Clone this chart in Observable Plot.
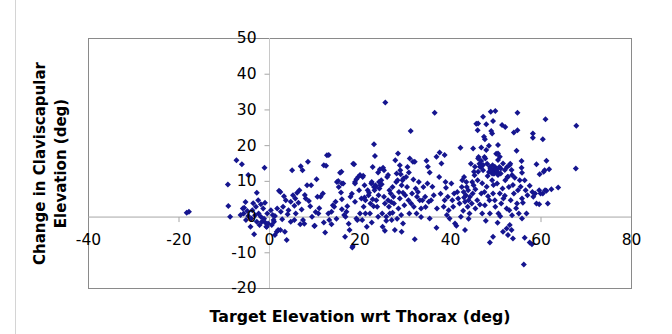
<!DOCTYPE html>
<html><head><meta charset="utf-8">
<script src="https://cdn.jsdelivr.net/npm/d3@7"></script>
<script src="https://cdn.jsdelivr.net/npm/@observablehq/plot@0.6"></script>
<style>
html,body{margin:0;padding:0;background:#fff;}
#wrap{position:relative;width:672px;height:334px;overflow:hidden;}
#wrap::before{content:"";position:absolute;left:15px;top:0;bottom:0;border-left:1px solid #d4d4d4;}
#wrap svg{display:block;}
</style></head><body><div id="wrap"></div>
<script>
// Data: [target elevation wrt thorax (deg), change in claviscapular elevation (deg)]
const ptsNeg = [[-18.3,1.2],[-17.8,1.5],[-9.2,9.1],[-9.1,3.1],[-8.7,0.1],[-7.3,15.9],[-6.1,14.8],[-4.7,11.8],[-1.1,13.8],
[-5.3,4.2],[-4.9,1.7],[-5.7,1],[-5.2,-0.8],[-4.2,-2.7],[-3.4,-4.8],[-2.8,6.8],[-3,2.9],[-2.5,4.7],[-1.9,3.6],[-3.8,1.9],[-2.4,1],[-1.9,0.1],[-1.7,-1.3],[-0.9,-1.6],[-0.7,-2.7],[-0.3,-1.8],[-2.8,-1.3],[-4,-0.4],[-4.7,0.3],[-6.4,0.6],[-5.9,2.4],[-1.4,2.4],[-0.5,1],[-5.6,2.6],[-3.6,3.9],[-1,4],[-2.2,-2.2],[-0.6,-2.7],[-1.2,-0.5],[-3.2,0.5]];
const pts0to10 = [[0.3,1.9],[0.7,0.6],[0.9,-0.8],[0.5,-2.2],[1.6,-4.1],[1.2,-5],[1.9,-3.6],[2.4,-3.6],[1.7,2.4],[2.1,7.4],[2.4,7],[2.5,1.5],[3,2.9],[3.6,4.7],[3.4,-4.1],[3.8,-6.4],[4.2,1.9],[4.7,4.3],[5,13.1],[5.2,6.1],[5.7,5.2],[5.8,1],[5.5,-0.8],[4.7,-1.3],[6.1,6.8],[6.4,4],[6.6,7.5],[6.9,14.2],[7.3,13.1],[7.1,2.1],[7.4,-0.8],[7.7,-1.9],[8,5.2],[8.3,8.9],[8.5,15.5],[8.7,4.5],[9.2,8.9],[9.4,0.1],[9.9,-2.5],[1.2,0.3],[2.8,-0.6],[4,0.8],[6.8,-2],[3.2,5.8],[5.5,3.2],[7.8,6.2],[9,3],[1,-1.3]];
const pts10to20 = [[10.2,1.4],[10.4,10.6],[10.6,5.7],[10.8,1],[10,-2.4],[11.3,5.7],[11.8,6.6],[12,14.5],[12.3,-4.3],[12.7,17.3],[13,1],[13.2,-0.8],[13.7,-2],[13.7,1.5],[14,3.3],[14.3,2.9],[14.6,4.3],[14.9,9.8],[15.3,8.4],[15.6,12.4],[15.8,6.9],[16,9.4],[16,5],[16.7,-5.5],[16.5,0.6],[16.8,0.1],[17,1.5],[17.5,-1.9],[17.7,-3.6],[17.9,5.7],[18.3,-8.5],[18.4,-8.1],[18.5,14.9],[18.9,4.3],[18.9,9.8],[19.2,-0.4],[19.4,-0.8],[19.6,11.2],[19.8,7.5],[15.2,10.1],[16.3,9.4],[18.7,14.8],[15.9,12.7],[18.9,9.4],[19.2,10.6],[12.5,14.4],[13.1,17.4],[11,2.5],[14.8,-0.5],[17.2,3],[12,-1.5],[16,2.2],[18.2,6.5]];
const pts20to30 = [[20,1],[20.3,5.2],[20.6,11.2],[20.8,2.9],[21,8.9],[21.2,4.7],[21.2,1],[21.5,-2.7],[21.7,7.5],[21.9,6.1],[22.2,1],[22.3,3.8],[22.5,9.4],[22.6,9.8],[22.8,14],[23.1,20.4],[23.3,17.1],[23.1,8.4],[23.2,7.5],[23.4,8.9],[23.6,4.7],[23.8,2.9],[24,0.1],[24.1,6.1],[24.2,9.8],[24.3,8],[24.5,8.9],[24.7,10.3],[24.9,1],[25,-2.7],[25.3,13.1],[25.3,5.7],[25.5,3.8],[25.6,32.1],[25.8,0.1],[25.5,-3.8],[26,11.2],[26.2,4.7],[26.4,2.9],[26.6,1],[26.8,6.6],[27,-0.8],[27.2,8.4],[27.4,5.7],[27.5,3.8],[27.7,-3.6],[27.8,15.9],[28.4,17.8],[28,9.8],[28.1,12.2],[28.3,10.3],[28.5,2.4],[28.6,7],[28.8,5.2],[28.9,13.1],[29.1,0.6],[29.2,8.9],[29.4,10.3],[29.5,-1.8],[29.2,-4.1],[29.8,3.3],[20,11.8],[20.7,11.6],[25.1,13.8],[24.4,13.4],[26.2,11.8],[24,12.5],[23.5,8.5],[24.8,9.2],[22,6.8],[21,5.5],[26.5,7.5],[29,12],[29.6,10.8],[28.8,14.5],[22.6,-1.5],[23,3],[25.8,-1],[27.2,1.2],[20.5,-0.8],[28.2,-0.5],[26.9,4.2],[22.8,5],[29.5,6.8]];
const pts30to40 = [[30,6.1],[30.2,11.2],[30.4,8.4],[30.5,14],[30.7,4.7],[31.2,24.1],[30.9,1],[31,16.4],[31.7,15.5],[31.3,3.8],[31.5,6.6],[31.9,2.9],[32.1,-6.2],[32.3,8],[32.5,1],[32.6,5.7],[33,9.8],[33.2,4.7],[33.5,2.4],[33.8,4.7],[34,8.4],[34.7,15.8],[34.4,5.7],[35,14.1],[35.4,12.5],[34.9,9.4],[35.2,4.3],[35.4,-0.4],[35.7,4.7],[36.5,29.2],[36.3,6.1],[36.9,16.9],[36.9,-3],[37,2.4],[37.6,18.1],[37.5,11.2],[38,15],[38.7,17.4],[38.5,2.9],[38.7,4.7],[38.9,9.8],[39.2,0.6],[39.4,5.7],[39.6,1.9],[39.8,-0.4],[30.8,12.5],[32.8,7],[36,8.5],[31.8,10.5],[33.5,0],[37.8,6.5],[39,8.2],[34.5,2.8],[32.1,15.5]];
const pts40to50 = [[40.2,9.4],[40.4,4.7],[40.6,2.9],[40.8,6.6],[41,-1.8],[41.3,-2.4],[42.2,19.4],[41.7,5.2],[42,3.8],[42.3,0.1],[42.5,8.4],[42.6,10.3],[43.2,-3.6],[42.9,7],[43,11.2],[43.2,4.3],[43.4,6.1],[43.5,9.8],[43.6,8.4],[43.8,2.9],[43.9,7.5],[44,4.7],[44.2,1],[44.3,5.7],[44.5,14.9],[45,19.2],[44.7,3.8],[44.9,6.6],[45.1,8.9],[45.3,11.7],[45.5,2.4],[45.7,26.1],[46,24.3],[45.9,4.7],[46,10.3],[46.2,16.8],[46.4,14.9],[46.8,19.5],[46.7,14],[46.8,6.6],[47,1],[47.2,28.1],[47.4,22.5],[47.2,13.1],[47.9,18.8],[47.5,16.8],[47.5,7],[47.6,3.3],[47.7,16.4],[47.9,26],[48.7,-7.1],[48.5,20],[48.1,14.9],[48.9,29.5],[49.2,23.4],[48.5,12.6],[48.6,4.7],[48.7,1],[48.8,13.5],[49.4,-5.5],[49.9,29.7],[49.4,26.9],[49.2,12.2],[49.2,10.3],[49.3,14.5],[49.4,6.6],[49.5,13.1],[49.6,12.2],[49,24.1],[49.8,4.7],[49.9,2.9],[46.1,26.2],[47.6,21.8],[46.1,16.4],[46.8,15.7],[47.2,14.6],[46.5,14.1],[45.4,14.1],[45.2,12.7],[46.1,12.7],[48.7,14.1],[49.8,14.1],[48.9,13.2],[49.6,12.2],[48.2,11.5],[47,9.5],[44.8,9.8],[43,5.5],[45.5,7.8],[48,8.5],[41.5,7],[46.5,3.5],[44,-0.5],[42.8,1.8],[47.8,-1],[48.3,5.8],[49.5,9]];
const pts50to60 = [[50,13.5],[50.1,17.7],[50.5,20.2],[50.3,9.4],[50.4,12.6],[50.5,16],[50.6,1],[50.4,-1.6],[50.8,14],[50.9,6.6],[51.1,12.2],[51.2,3.8],[51.4,25.8],[51.6,-4.1],[51.7,5.2],[52.1,25.2],[52.1,10.3],[52.4,-3.2],[52.4,2.4],[52.5,14],[52.6,11.2],[53.5,-3.6],[52.9,8.4],[53,1.9],[53.2,14.9],[53.3,4.7],[52.7,-5],[54,23.7],[53.8,-6],[54,6.6],[54.8,24.3],[54.8,29.2],[54.6,18.6],[54.7,3.8],[54.9,7.5],[55.1,1],[55.3,10.3],[55.7,15.7],[55.8,-0.4],[55.7,13.8],[55.8,12.4],[55.8,5.2],[56.2,-13.3],[56.4,-5.8],[56.4,10.3],[56.6,7.5],[56.8,1],[57,6.1],[57.5,-7.1],[58,-7.6],[58.2,23.4],[58.2,22.2],[58.1,7],[58.3,5.7],[59,14.8],[58.7,6.6],[59,3.8],[59.7,12],[59.6,7.5],[60.4,21.8],[59.9,6.6],[50.5,17.8],[50.9,16.9],[50.2,13.2],[51.1,13.6],[52,13.2],[50.5,11.8],[51.6,15],[53.1,14.6],[53.5,13.2],[53.6,11.8],[52.7,11.3],[53.1,-2.2],[51.5,8],[52,6],[53.8,9],[54.5,2.5],[55.5,8.5],[57.5,8.8],[56,4],[51,0.2],[53.6,0.5],[54.2,11]];
const pts60up = [[61,27.4],[61.2,15.8],[60.8,13.1],[60.9,7.5],[61.5,3.8],[59.6,3.6],[61.8,13.4],[60.6,12.7],[61.2,7.4],[60.4,6.6],[62.3,7.8],[63.8,8.3],[67.8,25.6],[67.7,13.6]];

const xTicks = [-40, -20, 0, 20, 40, 60, 80];
const yTicks = [-20, -10, 0, 10, 20, 30, 40, 50];
const xTitle = "Target Elevation wrt Thorax (deg)";
const yTitle1 = "Change in Claviscapular";
const yTitle2 = "Elevation (deg)";

const points = [...ptsNeg, ...pts0to10, ...pts10to20, ...pts20to30, ...pts30to40, ...pts40to50, ...pts50to60, ...pts60up];

const tickDown = {draw(ctx){ctx.moveTo(0,0);ctx.lineTo(0,5);}};
const tickLeft = {draw(ctx){ctx.moveTo(0,0);ctx.lineTo(-5,0);}};

const chart = Plot.plot({
  width: 672, height: 334,
  marginLeft: 88, marginRight: 41, marginTop: 38, marginBottom: 46,
  style: {fontFamily: "'DejaVu Sans', Verdana, sans-serif", background: "transparent"},
  x: {domain: [-40, 80], axis: null},
  y: {domain: [-20, 50], axis: null},
  marks: [
    Plot.frame({stroke: "#8a8a8a", strokeWidth: 1}),
    Plot.ruleY([0], {stroke: "#a6a6a6", strokeWidth: 1}),
    Plot.ruleX([0], {stroke: "#c8c8c8", strokeWidth: 1}),
    Plot.dot(xTicks.slice(1, -1), {x: d => d, y: 0, symbol: tickDown, fill: "none", stroke: "#a6a6a6", strokeWidth: 1}),
    Plot.dot(yTicks.slice(1, -1), {x: 0, y: d => d, symbol: tickLeft, fill: "none", stroke: "#a6a6a6", strokeWidth: 1}),
    Plot.dot(points, {x: d => d[0], y: d => d[1], symbol: "diamond2", r: 2.7, fill: "#15158f", stroke: "none"}),
    Plot.text(xTicks, {x: d => d, y: 0, text: d => String(d), dy: 23, fontSize: 15.5, fill: "#000", textAnchor: "middle", lineAnchor: "middle"}),
    Plot.text(yTicks, {x: 0, y: d => d, text: d => String(d), dx: -13, fontSize: 15.5, fill: "#000", textAnchor: "end", lineAnchor: "middle"}),
    Plot.text([xTitle], {frameAnchor: "bottom", dy: 28, text: d => d, fontSize: 15.8, fontWeight: "bold", fill: "#000", textAnchor: "middle", lineAnchor: "middle"}),
    Plot.text([yTitle1], {frameAnchor: "left", dx: -48, rotate: -90, text: d => d, fontSize: 15, fontWeight: "bold", fill: "#000", textAnchor: "middle", lineAnchor: "middle"}),
    Plot.text([yTitle2], {frameAnchor: "left", dx: -27, rotate: -90, text: d => d, fontSize: 15, fontWeight: "bold", fill: "#000", textAnchor: "middle", lineAnchor: "middle"})
  ]
});
document.getElementById("wrap").appendChild(chart);
</script></body></html>
